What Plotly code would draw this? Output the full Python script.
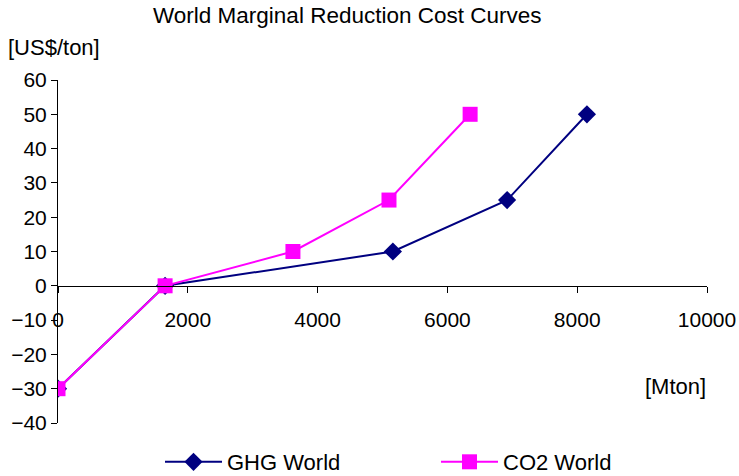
import plotly.graph_objects as go

# Marginal reduction cost curves: cumulative reduction [Mton] vs cost [US$/ton]
ghg_reduction = [0, 1650, 5160, 6920, 8150]
ghg_cost = [-30, 0, 10, 25, 50]
co2_reduction = [0, 1650, 3620, 5100, 6350]
co2_cost = [-30, 0, 10, 25, 50]

x_ticks = [0, 2000, 4000, 6000, 8000, 10000]
x_tick_labels = ["0", "2000", "4000", "6000", "8000", "10000"]
y_ticks = [-40, -30, -20, -10, 0, 10, 20, 30, 40, 50, 60]

FONT = "Liberation Sans, Arial, sans-serif"
FS_TICK = 21
FS_TEXT = 22

W, H = 739, 476
ML, MR, MT, MB = 58, 32, 80, 53

fig = go.Figure()
fig.add_trace(go.Scatter(
    x=ghg_reduction, y=ghg_cost, name="GHG World", mode="lines+markers",
    line=dict(color="#000080", width=2),
    marker=dict(symbol="diamond", size=14, color="#000080"),
))
fig.add_trace(go.Scatter(
    x=co2_reduction, y=co2_cost, name="CO2 World", mode="lines+markers",
    line=dict(color="#FF00FF", width=2),
    marker=dict(symbol="square", size=15, color="#FF00FF"),
))

plot_w = W - ML - MR
plot_h = H - MT - MB


def px_x(p):
    return (p - ML) / plot_w


def px_y(p):
    return (H - MB - p) / plot_h


fig.update_layout(
    width=W, height=H,
    margin=dict(l=ML, r=MR, t=MT, b=MB, autoexpand=False),
    paper_bgcolor="white", plot_bgcolor="white",
    font=dict(family=FONT, size=FS_TICK, color="black"),
    showlegend=True,
    legend=dict(orientation="h", x=px_x(160), xanchor="left", y=px_y(462), yanchor="middle",
                itemwidth=57, entrywidth=204, font=dict(size=FS_TEXT), tracegroupgap=0),
    xaxis=dict(range=[0, 10000], tickvals=x_ticks, ticktext=x_tick_labels,
               showgrid=False, zeroline=False,
               showline=True, linecolor="black", linewidth=1,
               ticks="outside", ticklen=6, tickcolor="black",
               anchor="free", position=0.4, ticklabelstandoff=9),
    yaxis=dict(range=[-40, 60], tickvals=y_ticks, showgrid=False, zeroline=False,
               showline=True, linecolor="black", linewidth=1,
               ticks="outside", ticklen=6, tickcolor="black"),
    annotations=[
        dict(text="World Marginal Reduction Cost Curves", x=px_x(347), y=px_y(15),
             xref="paper", yref="paper", xanchor="center", yanchor="middle",
             showarrow=False, font=dict(size=22.5)),
        dict(text="[US$/ton]", x=px_x(6), y=px_y(48), xref="paper", yref="paper",
             xanchor="left", yanchor="middle", showarrow=False, font=dict(size=FS_TEXT)),
        dict(text="[Mton]", x=px_x(708), y=px_y(386), xref="paper", yref="paper",
             xanchor="right", yanchor="middle", showarrow=False, font=dict(size=FS_TEXT)),
    ],
)

fig.write_html("out.html")
